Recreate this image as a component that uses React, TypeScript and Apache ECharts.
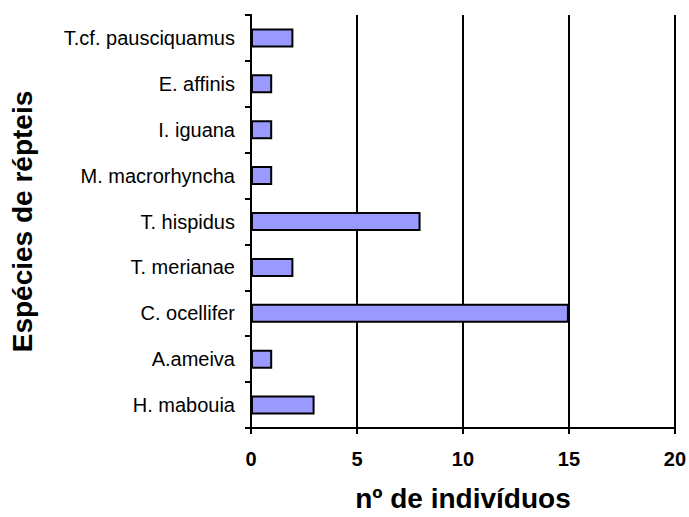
import React, { useEffect, useRef } from "react";
import * as echarts from "echarts";

const categories = [
  "H. mabouia",
  "A.ameiva",
  "C. ocellifer",
  "T. merianae",
  "T. hispidus",
  "M. macrorhyncha",
  "I. iguana",
  "E. affinis",
  "T.cf. pausciquamus",
];
const values = [3, 1, 15, 2, 8, 1, 1, 1, 2];
const xTicks = { min: 0, max: 20, interval: 5 };

const FONT = "'Liberation Sans', Arial, Helvetica, sans-serif";

export default function App() {
  const ref = useRef<HTMLDivElement>(null);
  useEffect(() => {
    document.body.style.margin = "0";
    if (!ref.current) return;
    const chart = echarts.init(ref.current, null, { renderer: "svg" });
    chart.setOption({
      animation: false,
      backgroundColor: "#ffffff",
      grid: { left: 251, right: 13, top: 15, bottom: 84, containLabel: false },
      xAxis: {
        type: "value",
        min: xTicks.min,
        max: xTicks.max,
        interval: xTicks.interval,
        name: "nº de indivíduos",
        nameLocation: "middle",
        nameGap: 56,
        nameTextStyle: { fontFamily: FONT, fontSize: 28, fontWeight: "bold", color: "#000" },
        axisLine: { show: true, lineStyle: { color: "#000", width: 2 } },
        axisTick: { show: true, length: 6, lineStyle: { color: "#000", width: 2 } },
        axisLabel: { fontFamily: FONT, fontSize: 20, fontWeight: "bold", color: "#000", margin: 21 },
        splitLine: { show: true, lineStyle: { color: "#000", width: 2 } },
      },
      yAxis: {
        type: "category",
        data: categories,
        name: "Espécies de répteis",
        nameLocation: "middle",
        nameGap: 215,
        nameTextStyle: { fontFamily: FONT, fontSize: 28, fontWeight: "bold", color: "#000" },
        axisLine: { show: true, lineStyle: { color: "#000", width: 2 } },
        axisTick: { show: true, length: 6, lineStyle: { color: "#000", width: 2 } },
        axisLabel: { fontFamily: FONT, fontSize: 20, color: "#000", margin: 16 },
        splitLine: { show: false },
      },
      series: [
        {
          type: "bar",
          data: values,
          barWidth: 19,
          itemStyle: { color: "#9999FF", borderColor: "#000", borderWidth: 2 },
        },
      ],
    });
    return () => chart.dispose();
  }, []);
  return <div ref={ref} style={{ width: 689, height: 517 }} />;
}
